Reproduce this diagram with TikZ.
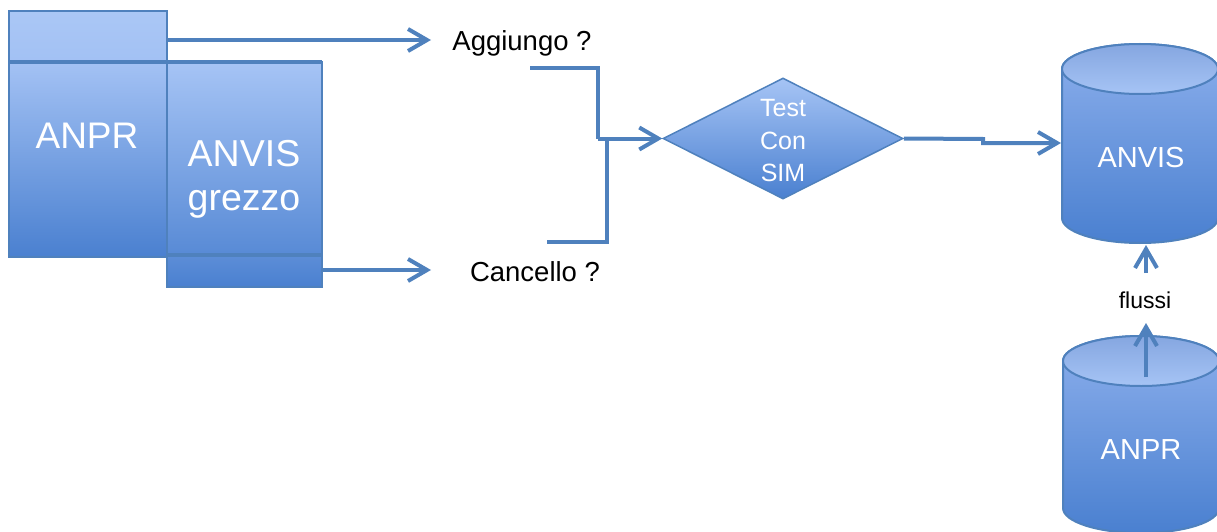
\documentclass[tikz,border=0pt]{standalone}
\usepackage{fontspec}
\setmainfont{Liberation Sans}
\usetikzlibrary{shapes.geometric,arrows.meta}
\definecolor{lb}{RGB}{79,129,189}
\definecolor{fl}{RGB}{166,196,245}
\definecolor{fm}{RGB}{140,175,236}
\definecolor{fd}{RGB}{74,128,208}
\newcommand{\drawcyl}[3]{%
  \path[shade,top color=fm,bottom color=fd,draw=lb,line width=2pt]
    (#1-78,#2) -- (#1-78,#3) arc[start angle=180,end angle=0,x radius=78,y radius=25]
    -- (#1+78,#2) arc[start angle=0,end angle=-180,x radius=78,y radius=25] -- cycle;
  \path[shade,top color=fm!95!black,bottom color=fl,draw=lb,line width=2pt]
    (#1,#2) ellipse[x radius=78,y radius=25];}
\begin{document}
\begin{tikzpicture}[x=1pt,y=-1pt,
  conn/.style={draw=lb,line width=4pt},
  arr/.style={conn,-{Straight Barb[length=19pt,width=22pt,line width=4pt]}},
  box/.style={shade,draw=lb,line width=2pt},
  wtext/.style={text=white,inner sep=0pt,align=center},
  btext/.style={text=black,inner sep=0pt,align=center}]
\useasboundingbox (0,0) rectangle (1217,532);
% left boxes
\path[box,top color=fl!95!white,bottom color=fl!85!fm] (9,11) rectangle (167,62);
\path[box,top color=fl!90!fm,bottom color=fd] (9,62) rectangle (167,257);
\path[box,top color=fl,bottom color=fd!85!fl] (167,62) rectangle (322,255);
\path[box,top color=fd!80!fl,bottom color=fd] (167,255) rectangle (322,287);
\draw[lb,line width=4.5pt] (9,62) -- (322,62);
\draw[lb,line width=3.5pt] (167,255) -- (322,255);
\node[wtext,font=\fontsize{37}{42}\selectfont] (anpr) at (87,136) {ANPR};
\node[wtext,font=\fontsize{37.5}{44}\selectfont] (anvisg) at (244,179) {ANVIS\\grezzo};
% labels
\node[btext,font=\fontsize{27.5}{32}\selectfont] (agg) at (522,43) {Aggiungo ?};
\node[btext,font=\fontsize{27.5}{32}\selectfont] (canc) at (535,272) {Cancello ?};
% diamond
\node[diamond,draw=lb,line width=1.5pt,shade,top color=fl,bottom color=fd,
  minimum width=240pt,minimum height=121pt,inner sep=0pt] (test) at (783,138.5) {};
\node[wtext,font=\fontsize{25}{32.5}\selectfont] (testt) at (783,141) {Test\\Con\\SIM};
% cylinders
\drawcyl{1140}{69}{218}
\drawcyl{1141}{361}{508}
\node[wtext,font=\fontsize{29}{32}\selectfont] (anvis) at (1141,157.5) {ANVIS};
\node[wtext,font=\fontsize{29}{32}\selectfont] (anprdb) at (1141,449.5) {ANPR};
\node[btext,font=\fontsize{23}{26}\selectfont] (flussi) at (1145,300) {flussi};
% coordinates
\coordinate (a1) at (167,40);
\coordinate (a2) at (431,40);
\coordinate (c1) at (322,270);
\coordinate (c2) at (431,270);
\coordinate (g1) at (530,68);
\coordinate (g2) at (598,68);
\coordinate (j1) at (598,138.5);
\coordinate (h1) at (547,242);
\coordinate (h2) at (607,242);
\coordinate (j2) at (607,138.5);
\coordinate (k1) at (983,139);
\coordinate (k2) at (983,143);
\coordinate (k3) at (1061,143);
\coordinate (f1) at (1146,377);
\coordinate (f2) at (1146,323);
\coordinate (f3) at (1146,273);
\coordinate (f4) at (1146,245);
% connectors
\draw[arr] (a1) -- (a2);
\draw[arr] (c1) -- (c2);
\draw[conn] (g1) -- (g2) -- (j1);
\draw[conn] (h1) -- (h2) -- (j2);
\draw[arr] (j1) -- (test.west);
\draw[arr] (test.east) -- (k1) -- (k2) -- (k3);
\draw[arr] (f1) -- (f2);
\draw[arr] (f3) -- (f4);
\end{tikzpicture}
\end{document}
